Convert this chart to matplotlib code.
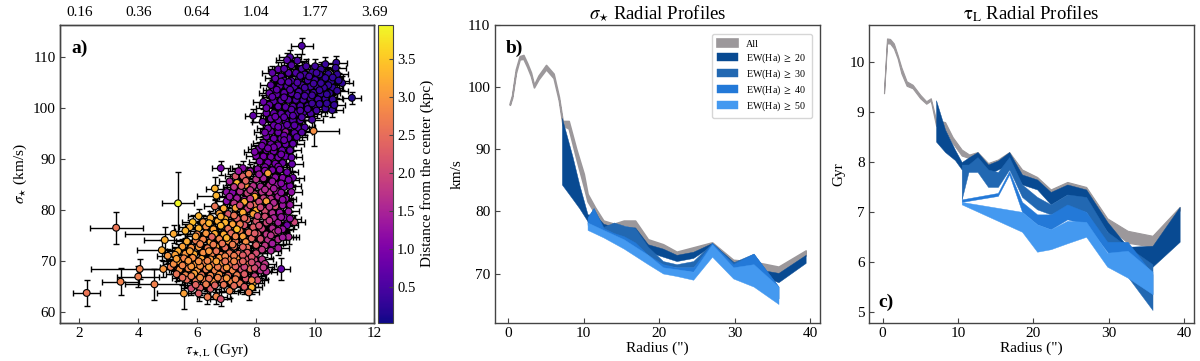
import matplotlib
matplotlib.use("Agg")
import matplotlib.pyplot as plt

plt.rcParams['font.family'] = ['Liberation Serif', 'DejaVu Serif']
plt.rcParams['mathtext.fontset'] = 'stix'

# scatter: (tau, sigma, distance), upper blob first
pts_top = [
    (9.15,110.0,.55),(9.05,109.4,.6),(9.4,109.3,.55),(8.75,107.6,.7),(9.2,108.4,.6),(9.55,107.7,.5),
    (9.7,108.2,.45),(10.0,108.2,.4),(10.35,108.6,.35),(10.72,108.9,.3),(10.7,107.9,.3),(10.75,106.6,.3),
    (10.92,104.9,.25),(10.55,105.2,.3),(10.6,104.0,.3),(10.45,106.7,.3),(10.2,107.6,.35),(10.15,106.6,.35),
    (9.9,107.0,.4),(9.65,106.6,.45),(9.35,106.9,.55),(9.1,106.9,.6),(8.85,106.2,.65),(8.65,105.8,.7),
    (8.95,105.4,.6),(9.2,105.3,.55),(9.45,105.7,.5),(9.75,105.4,.45),(10.0,105.5,.4),(10.25,105.3,.35),
    (10.45,104.5,.3),(10.3,104.0,.35),(10.05,104.3,.4),(9.85,104.2,.4),(9.55,104.5,.5),(9.3,104.2,.55),
    (9.05,104.3,.6),(8.8,104.3,.7),(8.6,103.6,.7),(8.45,102.9,.75),(8.7,102.7,.7),(8.95,103.0,.65),
    (9.2,102.9,.6),(9.45,103.2,.5),(9.7,103.1,.45),(9.95,103.0,.4),(10.2,102.8,.35),(10.5,102.9,.3),
    (10.6,101.7,.3),(10.35,101.8,.35),(10.1,101.7,.4),(9.85,101.9,.45),(9.6,101.6,.5),(9.35,101.6,.55),
    (9.1,101.6,.6),(8.85,101.5,.65),(8.6,101.3,.7),(8.25,101.2,.8),(8.45,100.6,.75),(8.75,100.3,.7),
    (9.0,100.2,.65),(9.25,100.3,.6),(9.5,100.4,.5),(9.75,100.4,.45),(10.0,100.5,.4),(10.3,100.6,.35),
    (10.58,99.6,.3),(10.35,99.9,.35),(10.05,99.5,.45),(9.85,98.9,.5),(9.6,99.1,.55),(9.35,99.0,.6),
    (9.1,98.8,.65),(8.85,98.9,.7),(8.6,99.0,.75),(8.35,99.0,.8),(8.5,97.9,.8),(8.75,97.6,.75),
    (9.0,97.5,.7),(9.25,97.6,.6),(9.5,97.6,.6),(9.9,97.7,.5),(8.22,97.3,.8),(8.6,96.6,.8),
    (8.9,96.3,.75),(9.15,96.4,.7),(9.42,96.1,.6),(9.65,96.2,.55),(8.5,95.4,.8),(8.75,95.2,.8),
    (9.0,95.3,1.3),(9.3,95.1,.7),(9.55,95.2,.6),(8.35,94.4,.85),(8.6,94.0,.8),(8.85,94.0,.8),
    (9.1,94.1,.75),(9.38,94.3,.65),(8.25,93.2,.9),(8.5,92.9,.85),(8.75,92.7,.85),(9.0,92.9,.8),
    (9.25,93.0,.7),(8.1,92.0,.9),(8.35,91.7,.9),(8.6,91.5,.9),(8.88,91.7,.8),(9.15,91.7,.75),
    (8.0,90.6,1.0),(8.25,90.5,.95),(8.5,90.4,.9),(8.75,90.3,.9),(9.0,90.5,.8),(9.22,89.0,.75),
    (8.12,89.5,1.0),(8.4,89.3,.95),(8.65,89.1,.95),(8.9,89.2,.85),
    # second pass, filling the gaps
    (8.55,106.9,.7),(8.95,107.7,.6),(9.5,106.3,.5),(9.8,106.2,.45),(10.05,106.9,.4),(10.35,105.9,.3),
    (10.6,106.0,.3),(10.8,105.4,.25),(10.2,104.9,.35),(9.95,104.8,.4),(9.65,104.0,.45),(9.4,105.0,.55),
    (9.1,105.1,.6),(8.85,105.2,.65),(8.5,104.5,.7),(8.7,103.6,.7),(9.15,103.6,.6),(9.4,102.4,.5),
    (9.65,102.4,.45),(9.9,102.5,.4),(10.15,103.5,.35),(10.4,102.7,.3),(10.75,103.4,.3),(10.65,100.6,.3),
    (10.4,100.9,.3),(10.15,100.8,.35),(9.9,100.9,.4),(8.95,102.1,.65),(8.55,102.2,.7),(8.35,100.0,.8),
    (9.2,99.7,.6),(9.5,99.5,.55),(9.75,99.8,.5),(8.65,98.3,.8),(8.95,98.2,.7),(9.25,98.5,.6),
    (9.55,98.2,.55),(8.4,96.0,.85),(8.75,96.3,.8),(9.05,96.7,.7),(9.3,96.6,.65),(8.3,95.2,.9),
    (8.95,94.6,.8),(8.2,92.6,.9),(8.95,93.7,.8),(8.6,92.3,.9),(8.4,92.1,.9),(7.95,91.4,1.0),
    (8.85,90.9,.85),(8.3,88.4,1.0),(8.75,88.5,1.0),(9.2,90.3,.75),
]
pts_mid = [
    (7.55,88.2,1.1),(7.8,87.6,1.2),(8.05,88.0,1.1),(8.3,87.7,1.1),(8.55,87.8,1.0),(8.8,87.9,1.0),
    (9.05,87.4,.9),(7.3,86.6,2.2),(7.55,86.6,2.3),(7.75,87.1,2.7),(8.0,86.0,1.7),(8.25,86.2,1.5),
    (8.4,87.2,3.1),(8.65,86.4,1.2),(8.9,86.3,1.1),(9.25,86.3,.9),(7.1,85.6,1.5),(7.35,85.3,3.3),
    (7.65,84.9,3.0),(7.9,84.7,1.7),(8.15,84.6,1.5),(8.45,84.8,1.6),(8.7,84.9,1.3),(8.95,84.5,1.0),
    (9.15,84.7,1.0),(7.0,83.5,1.2),(7.2,83.4,1.1),(7.45,83.6,1.6),(7.7,83.3,1.9),(7.95,83.1,2.0),
    (8.2,83.5,1.7),(8.45,83.4,1.7),(8.7,83.6,1.4),(9.2,83.5,1.2),(7.35,82.3,1.4),(7.6,82.0,1.5),
    (7.95,82.6,3.2),(8.25,82.3,1.9),(8.5,82.2,1.7),(8.75,82.6,1.4),(9.0,82.2,1.2),(7.0,81.7,1.1),
    (7.25,81.3,1.8),(7.6,81.6,3.2),(7.95,81.0,2.6),(8.35,81.7,3.1),(8.65,80.7,2.1),(8.9,80.9,1.3),
    (9.15,81.0,1.3),(6.6,80.7,2.6),(6.9,80.3,3.2),(7.3,80.4,3.1),(7.7,80.2,1.9),(8.0,79.9,3.2),
    (8.3,79.8,2.1),(8.55,79.4,1.6),(8.8,79.5,1.3),(9.1,79.7,1.3),(6.75,79.3,3.1),(7.05,79.2,2.2),
    (7.55,79.5,3.2),(7.9,79.2,3.1),(8.3,78.7,2.1),(8.6,78.4,1.5),(8.95,78.5,1.1),(9.3,77.6,2.0),
    (7.35,78.3,2.3),(7.7,78.1,2.4),(8.0,77.8,2.2),(8.35,77.5,2.0),(8.75,77.5,1.4),(9.05,77.0,.9),
    (7.2,77.2,3.1),(7.6,77.0,2.2),(7.9,76.6,2.3),(8.2,76.3,1.9),(8.55,76.4,1.6),(8.9,76.2,1.3),
    (7.45,75.9,2.7),(7.75,75.6,2.5),(8.05,75.3,2.2),(8.35,75.2,1.8),(8.65,75.6,1.9),(9.0,74.7,1.2),
    (7.55,74.8,3.1),(7.85,74.4,2.4),(8.15,74.3,2.1),(8.4,74.1,1.7),(8.75,74.2,1.6),(9.1,74.7,1.5),
    (7.3,73.9,2.6),(7.65,73.7,2.9),(8.0,73.1,2.3),(8.3,73.0,1.8),(8.55,73.4,1.4),
    # second pass, filling the gaps
    (7.4,87.6,1.3),(7.65,85.7,2.4),(8.1,87.0,1.3),(8.55,85.6,1.3),(8.85,85.2,1.1),(9.1,85.9,1.0),
    (7.25,84.5,1.8),(7.5,84.7,2.2),(7.8,83.9,1.8),(8.3,84.0,1.6),(8.6,84.2,1.4),(8.85,83.4,1.2),
    (7.1,82.6,1.3),(7.8,82.2,1.8),(8.1,81.6,2.0),(8.6,81.4,1.6),(8.9,82.0,1.2),(7.45,80.9,2.0),
    (7.8,80.9,2.2),(8.15,80.5,2.0),(8.45,80.6,1.7),(6.95,78.2,3.2),(7.25,78.9,2.6),(7.6,78.4,2.5),
    (8.05,78.8,2.0),(8.85,78.6,1.3),(9.15,78.3,1.2),(7.45,77.2,2.7),(8.45,77.9,1.8),(8.1,76.9,2.1),
    (8.75,75.9,1.5),(7.95,75.4,2.3),(8.5,75.0,1.7),(8.9,74.6,1.4),(7.05,75.9,2.8),(7.7,72.6,2.5),
    (8.2,72.2,1.8),(8.5,72.0,1.5),(8.75,72.5,1.4),
]
pts_low = [
    (5.85,77.6,3.4),(6.05,78.8,3.3),(6.2,77.6,3.0),(6.45,78.4,3.2),(6.7,77.8,3.2),(6.95,77.5,3.3),
    (5.75,76.6,3.2),(6.05,76.4,3.3),(6.3,76.7,2.9),(6.55,76.2,3.1),(6.8,76.9,3.3),(7.05,76.3,2.6),
    (7.35,76.2,3.4),(6.0,75.2,2.7),(6.3,75.4,3.0),(6.6,75.3,3.2),(6.9,75.2,3.2),(7.15,75.4,2.5),
    (5.65,73.8,3.2),(5.95,74.0,2.7),(6.2,74.2,2.8),(6.45,73.7,3.1),(6.75,74.3,2.8),(7.05,73.9,3.0),
    (5.5,72.8,3.1),(5.8,72.6,2.9),(6.05,72.7,3.0),(6.35,72.5,2.7),(6.65,72.8,3.1),(6.95,72.6,2.5),
    (7.25,72.8,2.6),(7.55,72.7,2.4),(5.35,71.9,3.2),(5.6,71.4,3.0),(5.9,71.3,3.2),(6.2,71.6,2.9),
    (6.5,71.4,2.8),(6.8,71.2,2.7),(7.1,71.5,2.6),(7.4,71.4,2.5),(7.7,71.6,2.3),(8.0,71.5,2.1),
    (5.0,71.0,3.0),(5.25,71.2,3.1),(5.55,70.5,2.8),(5.85,70.6,2.9),(6.15,70.4,3.1),(6.45,70.3,3.0),
    (6.75,70.6,3.0),(7.05,70.3,2.7),(7.35,70.4,2.9),(7.65,70.3,2.2),(7.95,70.2,2.0),(8.2,70.3,1.7),
    (5.35,69.9,3.1),(5.65,69.4,3.0),(5.95,69.3,3.0),(6.25,69.6,2.8),(6.55,69.2,2.7),(6.85,69.5,2.9),
    (7.15,69.2,2.5),(7.45,69.6,2.3),(7.75,69.3,2.6),(8.05,69.2,1.9),(8.3,69.4,1.8),(5.1,68.8,2.7),
    (5.4,68.3,2.9),(5.7,68.5,2.8),(6.0,68.1,3.0),(6.3,68.3,2.7),(6.6,68.1,2.8),(6.9,68.4,2.6),
    (7.2,68.1,2.8),(7.5,68.3,2.1),(7.8,68.4,2.5),(8.15,68.1,1.7),(8.35,67.9,1.6),(5.3,67.4,2.6),
    (5.6,67.2,2.8),(5.9,67.5,3.1),(6.15,67.2,2.6),(6.45,67.1,2.8),(6.75,67.3,2.9),(7.05,67.1,2.5),
    (7.35,67.2,2.7),(7.65,66.5,2.2),(7.95,67.0,1.9),(5.65,66.3,2.5),(5.95,66.0,2.6),(6.25,66.2,2.7),
    (6.55,65.9,2.9),(6.85,66.3,2.6),(7.15,65.9,2.8),(7.45,65.6,2.6),(7.9,65.7,3.2),(8.05,66.2,2.1),
    (5.8,64.6,2.1),(6.1,64.7,2.3),(6.45,64.5,2.3),(7.1,64.1,2.8),(7.85,64.8,3.3),(7.75,63.8,2.7),
    (6.05,63.6,2.3),(6.35,62.9,2.7),(6.65,63.0,2.8),(6.8,62.5,2.1),(5.95,74.8,3.1),(6.5,74.7,2.4),
    (7.0,74.5,3.3),(7.3,74.8,2.8),(5.6,75.9,3.3),(6.4,77.4,3.3),(6.8,78.7,3.2),(7.2,73.2,2.7),
    # second pass, filling the gaps
    (6.1,73.3,2.8),(6.55,73.2,2.7),(6.85,73.4,2.6),(5.75,71.9,3.1),(6.4,71.9,3.0),(6.65,71.9,2.6),
    (6.95,70.9,2.8),(7.25,71.0,2.7),(7.55,71.1,2.3),(7.85,70.8,2.2),(5.2,69.4,2.9),(5.5,69.1,2.8),
    (5.8,68.9,3.0),(6.1,69.0,2.9),(6.4,68.8,3.1),(6.7,68.8,2.7),(7.0,68.7,3.0),(7.3,68.9,2.4),
    (7.6,68.8,2.0),(7.95,68.6,2.1),(8.25,68.7,1.8),(5.5,66.7,2.5),(5.8,67.0,2.7),(6.1,66.7,2.9),
    (6.4,66.5,2.6),(6.7,66.7,2.8),(7.0,66.6,3.0),(7.3,66.4,2.7),(7.6,67.4,2.3),(7.85,66.2,2.8),
    (6.3,65.4,2.7),(6.6,65.2,2.4),(6.9,65.3,2.6),(7.25,65.1,2.5),(7.6,64.9,2.3),(5.95,65.3,2.4),
    (5.3,70.4,3.1),(5.7,70.0,3.0),(6.05,69.9,2.9),(6.35,70.0,2.8),(6.65,69.9,3.1),(6.95,69.9,2.6),
    (7.25,69.9,2.8),(7.55,69.9,2.4),(7.85,69.7,2.1),
]
# outliers with their own error bars: tau, sigma, distance, tau err, sigma err
pts_out = [
    (2.25,63.7,2.6,.45,2.6),(3.25,76.5,2.6,.9,3.1),(3.4,65.9,2.75,.62,2.7),(4.0,66.9,2.7,.72,2.0),
    (4.05,68.4,2.75,1.65,2.0),(4.55,65.4,2.75,1.0,3.0),(5.35,81.3,3.93,.55,6.2),(5.55,63.6,3.1,.9,3.0),
    (5.2,75.3,3.2,1.65,1.8),(4.9,74.1,3.25,.72,2.5),(4.8,72.1,3.2,.85,2.0),(4.85,68.4,3.0,.9,1.5),
    (6.6,84.2,3.3,.3,2.3),(6.65,82.8,3.3,.65,2.0),(6.8,88.2,.9,.3,1.4),(8.85,68.4,.72,.3,2.2),
    (9.95,95.5,2.9,.85,3.0),(11.25,102.0,.15,.32,1.2),(9.55,112.2,.55,.37,1.5),(7.9,98.5,.72,.27,1.3),
]
tau_err = 0.36
sigma_err = 1.4
top_ticks = [0.16, 0.36, 0.64, 1.04, 1.77, 3.69]

# radial profiles: each band is radius, lower, upper
sig_all_r = [0.2,0.5,1,1.5,2,2.5,3,3.4,4,5,6,6.7,7.2,8,9,10,10.5,11.5,12.6,14,15.3,16.8,18.5,20.5,22.3,24.5,27,29.8,32.5,35.8,39.4]
sig_all_lo = [97.1,98.2,102.2,104.4,104.5,103.2,101.7,99.9,101.2,102.8,101.4,97.8,93.8,93.3,88.5,84.0,81.6,79.6,77.9,77.5,77.8,77.5,74.6,73.7,72.8,73.3,74.7,71.5,71.0,70.1,72.9]
sig_all_hi = [97.4,98.6,102.8,104.9,105.1,103.8,102.3,100.3,101.8,103.5,102.1,98.4,94.5,94.5,90.0,86.0,82.8,80.6,78.5,78.0,78.5,78.5,75.5,74.7,73.5,74.2,75.0,72.2,71.9,71.1,73.7]
sig20_r = [7.1,8.5,9.4,10.5,11.5,12.6,14,15.3,16.8,18.5,20.5,22.3,24.5,27,29.8,32.5,35.8,39.4]
sig20_lo = [84.3,82.0,80.5,78.4,78.0,77.0,76.5,76.0,75.0,73.5,72.7,72.0,72.5,74.5,71.3,70.0,68.6,71.7]
sig20_hi = [95.0,88.8,84.3,79.5,79.5,78.0,77.5,77.5,77.4,74.7,74.0,73.0,73.5,74.9,71.9,70.8,70.1,73.0]
sig30_r = [10.5,11.3,12.6,14,15.3,16.8,18.5,20.5,22.3,24.5,27,29.8,32.5,35.8]
sig30_lo = [78.0,77.7,76.8,76.0,75.5,74.5,72.8,71.4,71.0,71.0,74.0,71.0,70.0,66.0]
sig30_hi = [79.0,80.5,77.5,78.2,77.7,77.3,74.3,72.0,71.5,72.0,74.9,71.8,73.2,67.9]
sig40_r = sig30_r
sig40_lo = [77.8,77.3,76.5,75.5,75.0,73.8,72.0,70.8,70.5,70.3,73.5,70.5,69.0,66.0]
sig40_hi = [79.0,80.5,77.3,76.5,76.0,75.0,73.0,71.5,71.0,71.0,74.9,71.5,73.2,67.9]
sig50_r = [10.5,12.6,15.3,18.5,20.5,22.3,24.5,27,29.8,32.5,35.8]
sig50_lo = [77.0,75.8,74.0,71.5,70.0,69.6,69.0,72.7,69.2,67.9,65.1]
sig50_hi = [78.2,77.0,75.5,73.0,71.0,70.7,70.3,74.7,71.0,71.5,67.9]

tau_all_r = [0.2,0.6,1,1.5,2,2.5,3.2,4,5,5.8,6.4,7.1,8.3,9.3,10.5,11.5,12.6,14,15.3,16.8,18.5,20.5,22.3,24.5,27,29.8,32.5,35.8,39.4]
tau_all_lo = [9.38,10.38,10.38,10.28,10.08,9.78,9.53,9.48,9.28,9.17,9.23,8.73,8.65,8.38,8.13,8.08,8.08,7.88,7.98,8.08,7.73,7.58,7.33,7.48,7.38,6.73,6.38,6.3,7.03]
tau_all_hi = [9.42,10.48,10.47,10.38,10.15,9.9,9.62,9.55,9.35,9.22,9.28,8.85,8.8,8.5,8.25,8.15,8.2,7.98,8.05,8.2,7.85,7.7,7.45,7.6,7.5,6.87,6.62,6.52,7.1]
tau20_r = [7.1,8.3,9.6,10.5,11.5,12.6,14,15.3,16.8,18.5,20.5,22.3,24.5,27,29.8,32.5,35.8,39.4]
tau20_lo = [8.41,8.2,8.04,7.85,7.9,7.95,7.75,7.85,7.95,7.55,7.45,7.15,7.35,7.2,6.6,6.1,5.9,6.4]
tau20_hi = [9.24,8.65,8.25,8.0,8.1,8.2,7.95,8.03,8.2,7.75,7.65,7.4,7.55,7.45,6.8,6.3,6.32,7.1]
tau30_r = [10.5,11.4,12.6,14,15.3,16.8,18.5,20.5,22.3,24.5,27,29.8,32.5,35.8]
tau30_lo = [7.25,7.8,7.8,7.5,7.5,7.85,7.3,7.05,6.95,7.1,7.0,6.3,5.7,5.03]
tau30_hi = [7.95,7.95,8.1,7.85,7.8,8.1,7.55,7.3,7.15,7.35,7.3,6.6,6.3,5.95]
tau40_r = [10.5,15.3,16.8,18.5,20.5,22.3,24.5,27,29.8,32.5,35.8]
tau40_lo = [7.2,7.32,7.75,7.0,6.75,6.65,6.85,6.75,6.2,5.7,5.35]
tau40_hi = [7.25,7.38,7.82,7.2,6.95,6.95,7.15,7.0,6.4,6.4,5.75]
tau50_r = [10.5,18.5,20.5,22.3,24.5,27,29.8,32.5,35.8]
tau50_lo = [7.15,6.6,6.2,6.25,6.37,6.5,5.9,5.68,5.35]
tau50_hi = [7.2,7.0,6.75,6.65,6.82,6.8,6.18,6.22,5.8]

gray = '#9c989b'
blues = ['#084a92', '#2268b2', '#2379d8', '#4499f0']
ew_labels = [r'EW(Ha) $\geq$ 20', r'EW(Ha) $\geq$ 30', r'EW(Ha) $\geq$ 40', r'EW(Ha) $\geq$ 50']
spine_col = '#444444'


def px_axes(fig, left, right, top, bottom):
    # axes from pixel edges of the 1200x361 picture
    return fig.add_axes([left / 1200, 1 - bottom / 361, (right - left) / 1200, (bottom - top) / 361])


def style(ax):
    ax.tick_params(direction='in', length=3.5, width=0.8, labelsize=11, color=spine_col, pad=3)
    for sp in ax.spines.values():
        sp.set_color(spine_col)
        sp.set_linewidth(1.0)


fig = plt.figure(figsize=(12, 3.61), dpi=100)

# panel a
ax = px_axes(fig, 60, 374, 24.5, 323)
rows = pts_top + pts_mid + pts_low
tau = [p[0] for p in rows]
sigma = [p[1] for p in rows]
dist = [p[2] for p in rows]
ax.errorbar(tau, sigma, xerr=tau_err, yerr=sigma_err, fmt='none', ecolor='black', elinewidth=1.0, capsize=2.3, capthick=1.0, zorder=1)
ax.errorbar([p[0] for p in pts_out], [p[1] for p in pts_out], xerr=[p[3] for p in pts_out], yerr=[p[4] for p in pts_out],
            fmt='none', ecolor='black', elinewidth=1.0, capsize=2.3, capthick=1.0, zorder=1)
sc = ax.scatter(tau + [p[0] for p in pts_out], sigma + [p[1] for p in pts_out], c=dist + [p[2] for p in pts_out],
                cmap='plasma', vmin=0.03, vmax=3.95, s=24, edgecolors='black', linewidths=0.8, zorder=2)
ax.set_xlim(1.345, 12)
ax.set_ylim(57.8, 116.4)
ax.set_xticks([2, 4, 6, 8, 10, 12])
ax.set_yticks([60, 70, 80, 90, 100, 110])
ax.set_xlabel(r'$\tau_{\star,\mathrm{L}}$ (Gyr)', fontsize=11, labelpad=1)
ax.set_ylabel(r'$\sigma_{\star}$ (km/s)', fontsize=11, labelpad=3)
style(ax)
ax.text(0.035, 0.95, 'a)', transform=ax.transAxes, fontsize=14, fontweight='bold', va='top')
top = ax.twiny()
top.set_xlim(ax.get_xlim())
top.set_xticks([2, 4, 6, 8, 10, 12])
top.set_xticklabels(['%.2f' % v for v in top_ticks])
style(top)
top.tick_params(length=0, pad=4)

cax = px_axes(fig, 378, 393, 24.5, 323)
cb = fig.colorbar(sc, cax=cax)
cb.set_ticks([0.5, 1.0, 1.5, 2.0, 2.5, 3.0, 3.5])
cb.ax.tick_params(direction='in', length=3, width=0.8, labelsize=10.5, color=spine_col, pad=3)
cb.set_label('Distance from the center (kpc)', fontsize=11, labelpad=3)
cb.outline.set_edgecolor(spine_col)

# panel b
ax = px_axes(fig, 494.5, 820, 24.5, 323)
ax.fill_between(sig_all_r, sig_all_lo, sig_all_hi, color=gray, lw=1.2, label='All')
ax.fill_between(sig20_r, sig20_lo, sig20_hi, color=blues[0], lw=0.3, label=ew_labels[0])
ax.fill_between(sig30_r, sig30_lo, sig30_hi, color=blues[1], lw=0.3, label=ew_labels[1])
ax.fill_between(sig40_r, sig40_lo, sig40_hi, color=blues[2], lw=0.3, label=ew_labels[2])
ax.fill_between(sig50_r, sig50_lo, sig50_hi, color=blues[3], lw=0.3, label=ew_labels[3])
ax.set_xlim(-1.83, 41.3)
ax.set_ylim(62.05, 110)
ax.set_xticks([0, 10, 20, 30, 40])
ax.set_yticks([70, 80, 90, 100, 110])
ax.set_xlabel('Radius (")', fontsize=11, labelpad=1)
ax.set_ylabel('km/s', fontsize=11, labelpad=3)
ax.set_title(r'$\sigma_{\star}$ Radial Profiles', fontsize=13.5, pad=4)
style(ax)
ax.text(0.035, 0.95, 'b)', transform=ax.transAxes, fontsize=14, fontweight='bold', va='top')
ax.legend(loc='upper right', fontsize=7.2, frameon=True, labelspacing=0.25, handlelength=2.1, handleheight=0.8, borderpad=0.55, bbox_to_anchor=(0.99, 0.985))

# panel c
ax = px_axes(fig, 868.7, 1194, 24.5, 323)
ax.fill_between(tau_all_r, tau_all_lo, tau_all_hi, color=gray, lw=0.8)
ax.fill_between(tau20_r, tau20_lo, tau20_hi, color=blues[0], lw=0.3)
ax.fill_between(tau30_r, tau30_lo, tau30_hi, color=blues[1], lw=0.3)
ax.fill_between(tau40_r, tau40_lo, tau40_hi, color=blues[2], lw=0.3)
ax.fill_between(tau50_r, tau50_lo, tau50_hi, color=blues[3], lw=0.3)
ax.set_xlim(-1.83, 41.3)
ax.set_ylim(4.77, 10.76)
ax.set_xticks([0, 10, 20, 30, 40])
ax.set_yticks([5, 6, 7, 8, 9, 10])
ax.set_xlabel('Radius (")', fontsize=11, labelpad=1)
ax.set_ylabel('Gyr', fontsize=11, labelpad=3)
ax.set_title(r'$\mathrm{\tau_{L}}$ Radial Profiles', fontsize=13.5, pad=4)
style(ax)
ax.text(0.03, 0.04, 'c)', transform=ax.transAxes, fontsize=14, fontweight='bold', va='bottom')

fig.savefig('out.png', dpi=100)
